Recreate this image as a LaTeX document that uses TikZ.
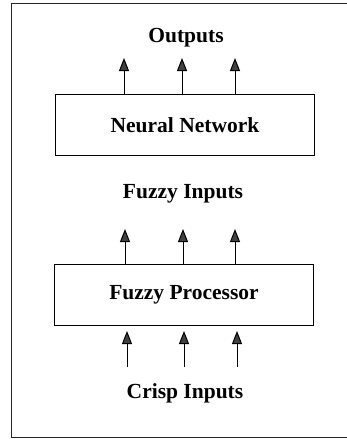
\documentclass[tikz,border=0pt]{standalone}
\usepackage{fontspec}
\setmainfont{Liberation Serif}
\usetikzlibrary{arrows.meta}
\begin{document}
\begin{tikzpicture}[x=1pt,y=-1pt,
  blk/.style={draw, line width=1.4pt, minimum width=259pt, minimum height=61pt, inner sep=0pt, font=\fontsize{21.5}{24}\selectfont\bfseries},
  lbl/.style={font=\fontsize{21.5}{24}\selectfont\bfseries, inner sep=0pt},
  arr/.style={line width=1pt, -{Triangle[length=13pt,width=10pt,fill=black!75]}}]
\useasboundingbox (0,0) rectangle (347,439);
\draw[line width=1pt, black!85] (347,3.5) -- (11,3.5) -- (11,437.5) -- (347,437.5);
\node[blk] (nn) at (185,125) {Neural Network};
\node[blk] (fp) at (184,295) {Fuzzy Processor};
\node[lbl] (out) at (186,38) {Outputs};
\node[lbl] (fi) at (183,194) {Fuzzy Inputs};
\node[lbl] (ci) at (185,393) {Crisp Inputs};
\foreach \x/\n in {124/a,182/b,235/c}{
  \coordinate (o\n) at (\x,58);
  \draw[arr] (nn.north -| o\n) -- (o\n);
}
\foreach \x/\n in {125/a,183/b,235/c}{
  \coordinate (f\n) at (\x,229);
  \draw[arr] (fp.north -| f\n) -- (f\n);
}
\foreach \x/\n in {127/a,184/b,237/c}{
  \coordinate (cs\n) at (\x,367);
  \coordinate (ce\n) at (\x,331);
  \draw[arr] (cs\n) -- (ce\n);
}
\end{tikzpicture}
\end{document}
